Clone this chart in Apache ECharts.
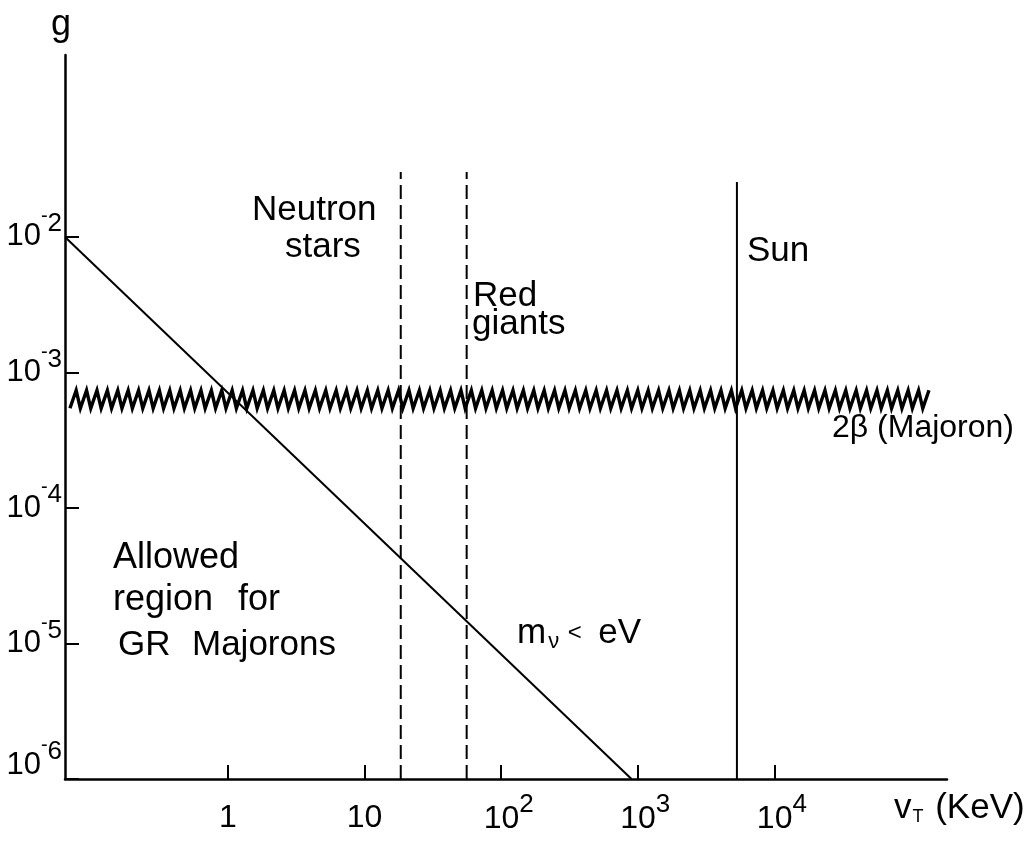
<!DOCTYPE html>
<html>
<head>
<meta charset="utf-8">
<script src="https://cdn.jsdelivr.net/npm/echarts@6/dist/echarts.min.js"></script>
<style>
html, body { margin: 0; padding: 0; background: #fff; }
#chart { width: 1031px; height: 842px; }
</style>
</head>
<body>
<div id="chart"></div>
<script>
var chart = echarts.init(document.getElementById('chart'));

// axis ranges: v_T in keV (x), coupling g (y)
var xRange = [0.0641, 183600];
var yRange = [1e-6, 0.22];
var xTicks = [1, 10, 100, 1000, 10000];
var yTicks = [1e-6, 1e-5, 1e-4, 1e-3, 1e-2];

// m_nu < eV bound
var massLine = [[0.0641, 1e-2], [900, 1e-6]];
// astrophysical limits
var neutronStars = [[18.4, 1e-6], [18.4, 0.0301]];
var redGiants = [[55.9, 1e-6], [55.9, 0.0301]];
var sun = [[5320, 1e-6], [5320, 0.0254]];
// 2beta (Majoron) bound: [x start, g, x end]
var majoron = [[0.0697, 6.34e-4, 137700]];

var FONT = '"Liberation Sans", Arial, sans-serif';

function expOf(v) {
    return Math.round(Math.log(v) / Math.LN10);
}

var thin = { color: '#000', width: 2 };
var dashed = { color: '#000', width: 2, type: [14, 6] };

function text(str, x, y, size, rich) {
    return {
        type: 'text',
        x: x,
        y: y,
        style: {
            text: str,
            fontSize: size || 35,
            fontFamily: FONT,
            fill: '#000',
            align: 'left',
            verticalAlign: 'middle',
            textAlign: 'left',
            textVerticalAlign: 'middle',
            rich: rich
        }
    };
}

option = {
    backgroundColor: '#fff',
    animation: false,
    grid: {
        left: 65,
        top: 55,
        right: 84,
        bottom: 63
    },
    xAxis: {
        type: 'log',
        logBase: 10,
        min: xRange[0],
        max: xRange[1],
        splitLine: { show: false },
        axisLine: { lineStyle: { color: '#000', width: 2.5 } },
        axisTick: {
            inside: true,
            length: 14,
            customValues: xTicks,
            lineStyle: { color: '#000', width: 2 }
        },
        axisLabel: {
            margin: 13,
            customValues: xTicks,
            color: '#000',
            fontFamily: FONT,
            formatter: function (v) {
                var e = expOf(v);
                if (e < 2) return '{b|' + Math.round(v) + '}';
                return '{p|10}{s|' + e + '}';
            },
            rich: {
                b: { fontSize: 32, fontFamily: FONT, lineHeight: 52 },
                p: { fontSize: 32, fontFamily: FONT, lineHeight: 52, padding: [0, 0, 0, 15] },
                s: { fontSize: 26, fontFamily: FONT, padding: [0, 0, 28, 0] }
            }
        }
    },
    yAxis: {
        type: 'log',
        logBase: 10,
        min: yRange[0],
        max: yRange[1],
        name: 'g',
        nameLocation: 'end',
        nameGap: 12,
        nameTextStyle: { color: '#000', fontSize: 36, fontFamily: FONT, padding: [0, 8, 0, 0] },
        splitLine: { show: false },
        axisLine: { lineStyle: { color: '#000', width: 2.5 } },
        axisTick: {
            inside: true,
            length: 14,
            customValues: yTicks,
            lineStyle: { color: '#000', width: 2 }
        },
        axisLabel: {
            margin: 3,
            customValues: yTicks,
            color: '#000',
            fontFamily: FONT,
            formatter: function (v) {
                var e = -expOf(v);
                if (e === 6) return '{q|10}{n6|-}{r|6}';
                return '{b|10}{n|-}{s|' + e + '}';
            },
            rich: {
                b: { fontSize: 31, fontFamily: FONT, lineHeight: 52 },
                n: { fontSize: 20, fontFamily: FONT, padding: [0, 0, 40, 0] },
                s: { fontSize: 26, fontFamily: FONT, padding: [0, 0, 26, 0] },
                q: { fontSize: 31, fontFamily: FONT, lineHeight: 52, padding: [0, 0, 28, 0] },
                n6: { fontSize: 20, fontFamily: FONT, padding: [0, 0, 68, 0] },
                r: { fontSize: 26, fontFamily: FONT, padding: [0, 0, 54, 0] }
            }
        }
    },
    graphic: [
        text('Neutron', 252, 210),
        text('stars', 285, 247),
        text('Red', 473, 296),
        text('giants', 472, 324),
        text('Sun', 747, 251),
        text('2\u03b2 (Majoron)', 832, 428, 32),
        text('Allowed', 113, 558, 36),
        text('region', 113, 600, 36),
        text('for', 238, 600, 36),
        text('GR', 118, 645),
        text('Majorons', 192, 645),
        text('{a|m}{s|\u03bd}{l| < }{a| eV}', 517, 633, 35, {
            a: { fontSize: 35, fontFamily: FONT },
            s: { fontSize: 22, fontFamily: FONT, padding: [18, 2, 0, 2] },
            l: { fontSize: 24, fontFamily: FONT }
        }),
        text('{a|v}{s|T}{a| (KeV)}', 894, 808, 35, {
            a: { fontSize: 35, fontFamily: FONT },
            s: { fontSize: 18, fontFamily: FONT, padding: [18, 2, 0, 1] }
        })
    ],
    series: [{
        name: 'm_nu < eV',
        type: 'line',
        symbol: 'none',
        lineStyle: thin,
        data: massLine
    }, {
        name: 'Neutron stars',
        type: 'line',
        symbol: 'none',
        lineStyle: dashed,
        data: neutronStars
    }, {
        name: 'Red giants',
        type: 'line',
        symbol: 'none',
        lineStyle: dashed,
        data: redGiants
    }, {
        name: 'Sun',
        type: 'line',
        symbol: 'none',
        lineStyle: thin,
        data: sun
    }, {
        name: '2beta (Majoron)',
        type: 'custom',
        encode: { x: [0, 2], y: 1 },
        data: majoron,
        renderItem: function (params, api) {
            var p0 = api.coord([api.value(0), api.value(1)]);
            var p1 = api.coord([api.value(2), api.value(1)]);
            // wavy hatching drawn along the bound, 10.4px period
            var half = 5.2, amp = 9;
            var pts = [];
            for (var x = p0[0], k = 0; x <= p1[0]; x += half, k++) {
                pts.push([x + (k % 2 ? 1 : 0), p0[1] + (k % 2 ? -amp : amp)]);
            }
            return {
                type: 'polyline',
                shape: { points: pts },
                style: { stroke: '#000', lineWidth: 3.4, fill: null, lineJoin: 'miter' }
            };
        }
    }]
};

chart.setOption(option);
</script>
</body>
</html>
